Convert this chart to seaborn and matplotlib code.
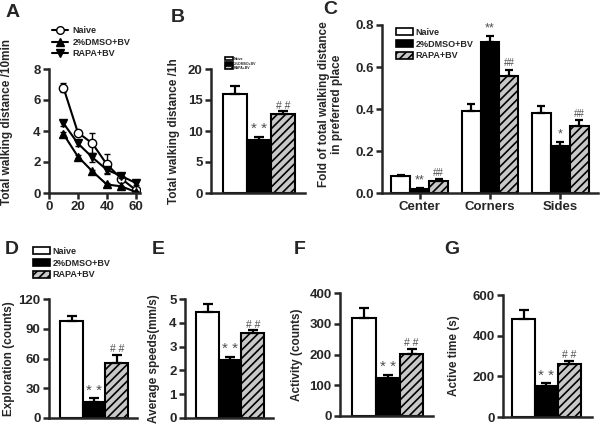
import numpy as np
import pandas as pd
import matplotlib
matplotlib.use('Agg')
import matplotlib.pyplot as plt
import seaborn as sns
from matplotlib.patches import Patch
from matplotlib.lines import Line2D
from matplotlib.ticker import FormatStrFormatter

sns.set_style('ticks')
plt.rcParams['font.family'] = ['Liberation Sans', 'DejaVu Sans']
plt.rcParams['font.weight'] = 'bold'
plt.rcParams['axes.labelweight'] = 'bold'
plt.rcParams['hatch.linewidth'] = 1.2
plt.rcParams['axes.linewidth'] = 1.8

# groups shared by every panel
groups = ['Naive', '2%DMSO+BV', 'RAPA+BV']
fills = ['white', 'black', '#c8c8c8']
hatches = ['', '', '////']

# A - walking distance per 10 min
time = [10, 20, 30, 40, 50, 60]
naive = [6.8, 3.9, 3.2, 1.85, 0.93, 0.2]
naive_err = [0.3, 0.15, 0.7, 0.65, 0.1, 0.1]
dmso = [3.8, 2.35, 1.4, 0.55, 0.43, 0.07]
dmso_err = [0.15, 0.1, 0.1, 0.08, 0.05, 0.05]
rapa = [4.5, 3.2, 2.3, 1.5, 1.1, 0.65]
rapa_err = [0.15, 0.15, 0.3, 0.2, 0.15, 0.15]

# B - total walking distance / 1h
b_vals = [16.0, 8.6, 12.8]
b_errs = [1.2, 0.5, 0.4]

# C - preferred place
places = ['Center', 'Corners', 'Sides']
c_naive = [0.079, 0.39, 0.38]
c_naive_err = [0.008, 0.035, 0.035]
c_dmso = [0.019, 0.718, 0.225]
c_dmso_err = [0.004, 0.03, 0.02]
c_rapa = [0.059, 0.558, 0.317]
c_rapa_err = [0.007, 0.03, 0.03]
c_marks = [['', '', ''], ['**', '**', '*'], ['##', '##', '##']]

# D-G
d_vals = [98, 16.5, 55]
d_errs = [4.5, 3.2, 9]
e_vals = [4.45, 2.42, 3.56]
e_errs = [0.33, 0.14, 0.12]
f_vals = [320, 122, 203]
f_errs = [32, 12, 16]
g_vals = [482, 152, 262]
g_errs = [43, 14, 15]
bar_marks = ['', '* *', '# #']

W, H = 600, 429
fig = plt.figure(figsize=(W / 100, H / 100), dpi=100)


def rect(l, r, t, b):
    return [l / W, 1 - b / H, (r - l) / W, (b - t) / H]


def style(ax):
    sns.despine(ax=ax)
    for s in ['left', 'bottom']:
        ax.spines[s].set_linewidth(1.8)
    ax.tick_params(width=1.8, length=4, labelsize=9.5, direction='out', pad=2)


def letter(x, y, t):
    fig.text(x / W, 1 - y / H, t, fontsize=14, fontweight='bold', va='top', ha='left')


def bar_legend(ax, x, y, fs, hl, hh, sp):
    handles = [Patch(facecolor=f, edgecolor='k', hatch=h, linewidth=1.2) for f, h in zip(fills, hatches)]
    ax.legend(handles, groups, loc='upper left', bbox_to_anchor=(x / W, 1 - y / H),
              bbox_transform=fig.transFigure, frameon=False, fontsize=fs,
              handlelength=hl, handleheight=hh, handletextpad=0.3,
              labelspacing=sp, borderpad=0, borderaxespad=0)


def bar_panel(r, vals, errs, ylim, yticks, ylabel, lab_xy, xlim=(-1.0, 2.9), star_fs=11, hash_fs=7.5):
    ax = fig.add_axes(r)
    sns.barplot(x=groups, y=vals, hue=groups, palette=fills, width=1.0, edgecolor='black',
                linewidth=1.5, saturation=1, legend=False, ax=ax)
    for p, h in zip(ax.patches, hatches):
        p.set_hatch(h)
    ax.errorbar(range(3), vals, yerr=[[0] * 3, errs], fmt='none', ecolor='black',
                elinewidth=1.6, capsize=3.5, capthick=1.6, zorder=1)
    pad = ylim[1] * 0.005
    for i, m in enumerate(bar_marks):
        if m:
            ax.text(i, vals[i] + errs[i] + pad, m, ha='center', va='bottom',
                    fontsize=star_fs if '*' in m else hash_fs, color='#4d4d4d', fontweight='normal')
    ax.set_xlim(*xlim)
    ax.set_ylim(*ylim)
    ax.set_yticks(yticks)
    ax.set_xticks([])
    style(ax)
    ax.set_ylabel(ylabel, fontsize=8.5)
    ax.yaxis.set_label_coords(*lab_xy)
    return ax


# ---- A ----
axA = fig.add_axes(rect(49, 140, 69, 193))
for vals, errs, mk, face in [(naive, naive_err, 'o', 'white'), (dmso, dmso_err, '^', 'black'),
                              (rapa, rapa_err, 'v', 'black')]:
    axA.errorbar(time, vals, yerr=errs, fmt='none', ecolor='black', elinewidth=1.0, capsize=2)
    sns.lineplot(x=time, y=vals, ax=axA, color='black', marker=mk, markersize=6,
                 markerfacecolor=face, markeredgecolor='black', markeredgewidth=1.0, linewidth=1.5)
axA.set_xlim(0, 63)
axA.set_ylim(0, 8)
axA.set_xticks([0, 20, 40, 60])
axA.set_yticks([0, 2, 4, 6, 8])
style(axA)
axA.set_ylabel('Total walking distance /10min', fontsize=8.5)
axA.yaxis.set_label_coords(-0.40, 0.57)
lh = [Line2D([], [], color='black', marker=m, markerfacecolor=f, markeredgecolor='black', markersize=5.5, linewidth=1.5)
      for m, f in [('o', 'white'), ('^', 'black'), ('v', 'black')]]
axA.legend(lh, groups, loc='upper left', bbox_to_anchor=(52 / W, 1 - 26 / H), bbox_transform=fig.transFigure,
           frameon=False, fontsize=6.5, handlelength=1.8, handletextpad=0.5, labelspacing=0.3,
           borderpad=0, borderaxespad=0)
letter(6, 4, 'A')

# ---- B ----
axB = bar_panel(rect(211, 305, 69, 193), b_vals, b_errs, (0, 20), [0, 5, 10, 15, 20],
                'Total walking distance /1h', (-0.33, 0.5))
bar_legend(axB, 225, 57, 2.5, 2.2, 0.9, 0.15)
letter(171, 9, 'B')

# ---- C ----
axC = fig.add_axes(rect(382, 598, 25, 193))
df = pd.DataFrame({'place': places * 3, 'group': np.repeat(groups, 3),
                   'value': c_naive + c_dmso + c_rapa})
sns.barplot(data=df, x='place', y='value', hue='group', palette=fills, width=0.81,
            edgecolor='black', linewidth=1.5, saturation=1, legend=False, ax=axC)
for cont, h, errs, marks in zip(axC.containers, hatches, [c_naive_err, c_dmso_err, c_rapa_err], c_marks):
    xs = [b.get_x() + b.get_width() / 2 for b in cont]
    ys = [b.get_height() for b in cont]
    for b in cont:
        b.set_hatch(h)
    axC.errorbar(xs, ys, yerr=[[0] * 3, errs], fmt='none', ecolor='black', elinewidth=1.6,
                 capsize=3, capthick=1.6, zorder=1)
    for x, y, e, m in zip(xs, ys, errs, marks):
        if m:
            axC.text(x, y + e + 0.006, m, ha='center', va='bottom', fontsize=9 if '*' in m else 7,
                     color='#4d4d4d', fontweight='normal')
axC.set_xlim(-0.54, 2.54)
axC.set_ylim(0, 0.8)
axC.set_yticks([0, 0.2, 0.4, 0.6, 0.8])
axC.yaxis.set_major_formatter(FormatStrFormatter('%.1f'))
axC.set_xlabel('')
style(axC)
axC.set_ylabel('Fold of total walking distance\nin preferred place', fontsize=8.5, linespacing=1.1)
axC.yaxis.set_label_coords(-0.18, 0.53)
bar_legend(axC, 396, 28, 6.5, 1.9, 0.8, 0.3)
letter(323, 1, 'C')

# ---- D-G ----
axD = bar_panel(rect(49, 137, 299, 418), d_vals, d_errs, (0, 120), [0, 30, 60, 90, 120],
                'Exploration (counts)', (-0.39, 0.5))
bar_legend(axD, 33, 247, 6.5, 1.9, 0.8, 0.3)
letter(5, 241, 'D')

bar_panel(rect(185, 273, 299, 418), e_vals, e_errs, (0, 5), [0, 1, 2, 3, 4, 5],
          'Average speeds(mm/s)', (-0.28, 0.5))
letter(152, 241, 'E')

bar_panel(rect(340, 433, 293, 416), f_vals, f_errs, (0, 400), [0, 100, 200, 300, 400],
          'Activity (counts)', (-0.40, 0.5))
letter(294, 241, 'F')

bar_panel(rect(503, 592, 295, 417), g_vals, g_errs, (0, 600), [0, 200, 400, 600],
          'Active time (s)', (-0.48, 0.5), xlim=(-0.9, 3.0))
letter(444, 241, 'G')

fig.savefig('out.png', dpi=100)
